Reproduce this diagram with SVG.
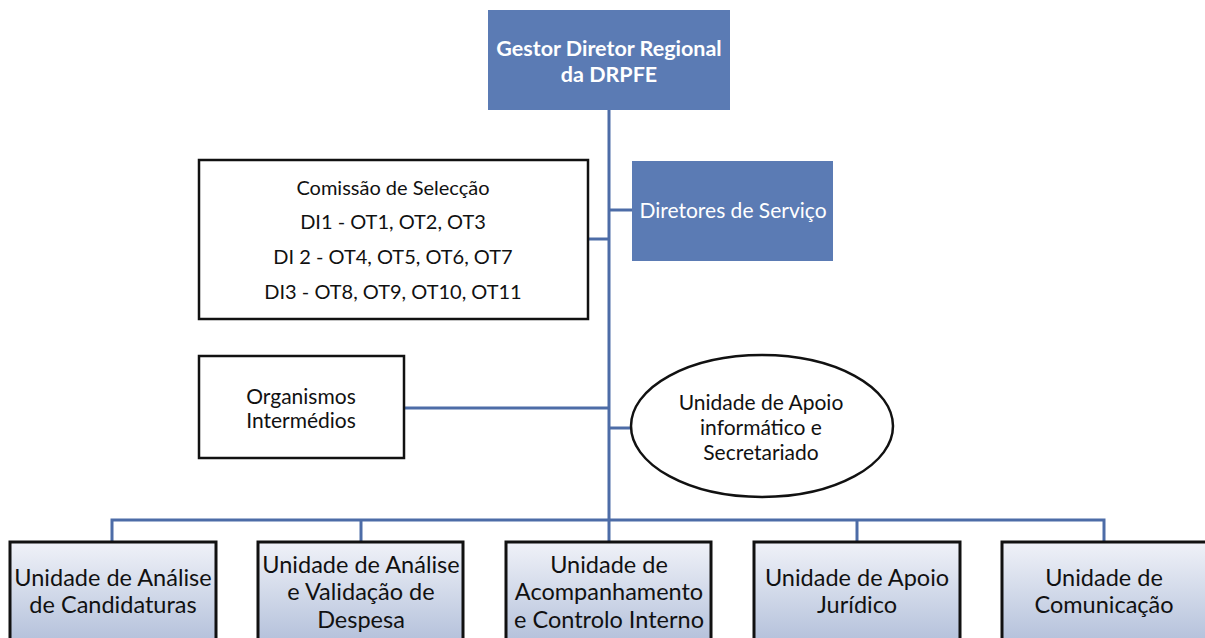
<svg xmlns="http://www.w3.org/2000/svg" width="1205" height="638" viewBox="0 0 1205 638">
<defs>
<linearGradient id="g" x1="0" y1="0" x2="0" y2="1">
<stop offset="0" stop-color="#f0f2f8"/>
<stop offset="1" stop-color="#aebcd8"/>
</linearGradient>
</defs>
<style>
.t{font-family:Lato,"Liberation Sans",sans-serif;text-anchor:middle}
.w{fill:#fff}
.k{fill:#111}
.blue{fill:#5b7bb4}
.box{fill:#fff;stroke:#111;stroke-width:2.5}
.unit{fill:url(#g);stroke:#111;stroke-width:3}
.c{stroke:#4d6ca7;stroke-width:3;fill:none}
</style>
<rect width="1205" height="638" fill="#fff"/>
<g id="connectors">
<line class="c" x1="609" y1="110" x2="609" y2="521"/>
<line class="c" x1="588" y1="239" x2="609" y2="239"/>
<line class="c" x1="609" y1="210" x2="632" y2="210"/>
<line class="c" x1="404" y1="408" x2="609" y2="408"/>
<line class="c" x1="609" y1="428" x2="631" y2="428"/>
<polyline class="c" points="112,542 112,520 1104,520 1104,542"/>
<line class="c" x1="361" y1="520" x2="361" y2="542"/>
<line class="c" x1="609" y1="520" x2="609" y2="542"/>
<line class="c" x1="857" y1="520" x2="857" y2="542"/>
</g>
<g id="gestor">
<rect class="blue" x="488" y="10" width="242" height="100"/>
<text class="t w" font-size="21.5" font-weight="bold"><tspan x="609" y="56">Gestor Diretor Regional</tspan><tspan x="609" y="82">da DRPFE</tspan></text>
</g>
<g id="comissao">
<rect class="box" x="199" y="160" width="389" height="159"/>
<text class="t k" font-size="20"><tspan x="393" y="195">Comissão de Selecção</tspan><tspan x="393" y="229">DI1 - OT1, OT2, OT3</tspan><tspan x="393" y="264">DI 2 - OT4, OT5, OT6, OT7</tspan><tspan x="393" y="299">DI3 - OT8, OT9, OT10, OT11</tspan></text>
</g>
<g id="diretores">
<rect class="blue" x="632" y="161" width="201" height="100"/>
<text class="t w" font-size="21" x="733" y="218">Diretores de Serviço</text>
</g>
<g id="organismos">
<rect class="box" x="199" y="356" width="205" height="102"/>
<text class="t k" font-size="21"><tspan x="301" y="404">Organismos</tspan><tspan x="301" y="428">Intermédios</tspan></text>
</g>
<g id="apoio-informatico">
<ellipse cx="762" cy="426" rx="131" ry="71" fill="#fff" stroke="#111" stroke-width="2.5"/>
<text class="t k" font-size="21"><tspan x="761" y="410">Unidade de Apoio</tspan><tspan x="761" y="435">informático e</tspan><tspan x="761" y="460">Secretariado</tspan></text>
</g>
<g id="u-candidaturas">
<rect class="unit" x="10" y="542" width="206" height="110"/>
<text class="t k" font-size="23.5"><tspan x="113" y="586">Unidade de Análise</tspan><tspan x="113" y="613">de Candidaturas</tspan></text>
</g>
<g id="u-despesa">
<rect class="unit" x="258" y="542" width="205" height="110"/>
<text class="t k" font-size="23.5"><tspan x="361" y="573">Unidade de Análise</tspan><tspan x="361" y="600">e Validação de</tspan><tspan x="361" y="628">Despesa</tspan></text>
</g>
<g id="u-controlo">
<rect class="unit" x="506" y="542" width="205" height="110"/>
<text class="t k" font-size="23.5"><tspan x="609" y="573">Unidade de</tspan><tspan x="609" y="600">Acompanhamento</tspan><tspan x="609" y="628">e Controlo Interno</tspan></text>
</g>
<g id="u-juridico">
<rect class="unit" x="754" y="542" width="206" height="110"/>
<text class="t k" font-size="23.5"><tspan x="857" y="586">Unidade de Apoio</tspan><tspan x="857" y="613">Jurídico</tspan></text>
</g>
<g id="u-comunicacao">
<rect class="unit" x="1002" y="542" width="205" height="110"/>
<text class="t k" font-size="23.5"><tspan x="1104" y="586">Unidade de</tspan><tspan x="1104" y="613">Comunicação</tspan></text>
</g>
</svg>
